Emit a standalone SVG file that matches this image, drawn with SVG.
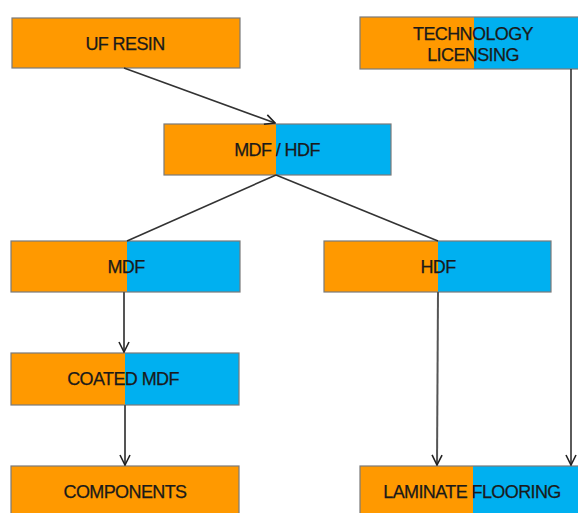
<svg xmlns="http://www.w3.org/2000/svg" width="578" height="513" viewBox="0 0 578 513">
  <style>
    .or { fill: #FF9900; }
    .bl { fill: #00B0F0; }
    .frame { fill: none; stroke: #7a7a7a; stroke-width: 1.2; }
    .lbl { font-family: "Liberation Sans", Arial, sans-serif; font-size: 18px; fill: #1a1a1a; text-anchor: middle; letter-spacing: -0.6px; stroke: #1a1a1a; stroke-width: 0.25; }
    .edge { fill: none; stroke: #333; stroke-width: 1.6; }
    .edge-g { fill: none; stroke: #555; stroke-width: 2; }
  </style>
  <defs>
    <marker id="open" viewBox="0 0 12 12" refX="11" refY="6" markerWidth="12" markerHeight="12" markerUnits="userSpaceOnUse" orient="auto">
      <path d="M1,1 L11,6 L1,11" fill="none" stroke="#222" stroke-width="1.6"/>
    </marker>
  </defs>

  <rect width="578" height="513" fill="#fff"/>

  <g id="uf-resin">
    <rect class="or" x="12" y="18" width="228" height="50"/>
    <rect class="frame" x="12" y="18" width="228" height="50"/>
    <text class="lbl" x="125" y="50">UF RESIN</text>
  </g>

  <g id="technology-licensing">
    <rect class="or" x="360" y="17" width="114" height="52"/>
    <rect class="bl" x="474" y="17" width="110" height="52"/>
    <rect class="frame" x="360" y="17" width="224" height="52"/>
    <text class="lbl" x="473" y="40">TECHNOLOGY</text>
    <text class="lbl" x="473" y="61">LICENSING</text>
  </g>

  <g id="mdf-hdf">
    <rect class="or" x="164" y="124" width="112" height="51"/>
    <rect class="bl" x="276" y="124" width="115" height="51"/>
    <rect class="frame" x="164" y="124" width="227" height="51"/>
    <text class="lbl" x="277" y="156">MDF / HDF</text>
  </g>

  <g id="mdf">
    <rect class="or" x="11" y="241" width="116" height="51"/>
    <rect class="bl" x="127" y="241" width="113" height="51"/>
    <rect class="frame" x="11" y="241" width="229" height="51"/>
    <text class="lbl" x="126" y="273">MDF</text>
  </g>

  <g id="hdf">
    <rect class="or" x="324" y="241" width="114" height="51"/>
    <rect class="bl" x="438" y="241" width="113" height="51"/>
    <rect class="frame" x="324" y="241" width="227" height="51"/>
    <text class="lbl" x="438" y="273">HDF</text>
  </g>

  <g id="coated-mdf">
    <rect class="or" x="11" y="353" width="114" height="52"/>
    <rect class="bl" x="125" y="353" width="114" height="52"/>
    <rect class="frame" x="11" y="353" width="228" height="52"/>
    <text class="lbl" x="123" y="385">COATED MDF</text>
  </g>

  <g id="components">
    <rect class="or" x="11" y="466" width="228" height="52"/>
    <rect class="frame" x="11" y="466" width="228" height="52"/>
    <text class="lbl" x="125" y="498">COMPONENTS</text>
  </g>

  <g id="laminate-flooring">
    <rect class="or" x="360" y="466" width="113" height="52"/>
    <rect class="bl" x="473" y="466" width="111" height="52"/>
    <rect class="frame" x="360" y="466" width="224" height="52"/>
    <text class="lbl" x="472" y="498">LAMINATE FLOORING</text>
  </g>

  <g id="connectors">
    <path class="edge" d="M124,68 L275,123" marker-end="url(#open)"/>
    <path class="edge" d="M276,175 L127,241"/>
    <path class="edge" d="M276,175 L438,241"/>
    <path class="edge-g" d="M124,292 L124,352" marker-end="url(#open)"/>
    <path class="edge-g" d="M125,405 L125,465" marker-end="url(#open)"/>
    <path class="edge-g" d="M438,292 L437,465" marker-end="url(#open)"/>
    <path class="edge" d="M571,69 L571,465" marker-end="url(#open)"/>
  </g>
</svg>
